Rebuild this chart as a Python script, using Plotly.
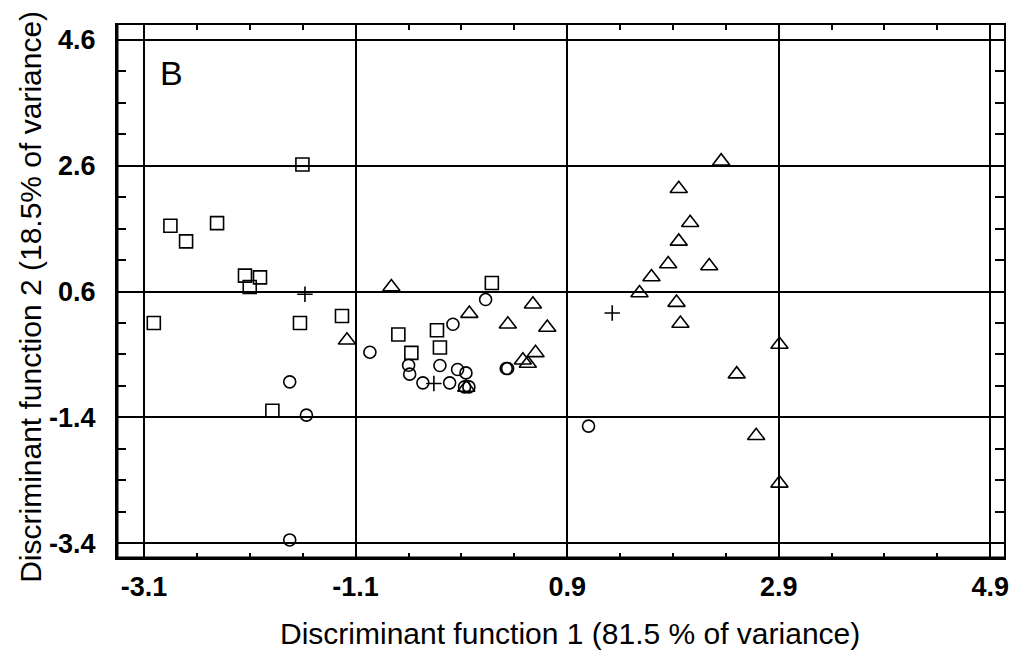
import plotly.graph_objects as go

# Discriminant scores (function 1, function 2) for each group
square_x = [-1.603, -2.851, -2.703, -2.410, -2.146, -2.004, -2.101, -3.008,
            -1.626, -1.229, -1.887, -0.696, -0.573, -0.331, -0.303, 0.188]
square_y = [2.617, 1.645, 1.396, 1.686, 0.852, 0.825, 0.671, 0.100,
            0.100, 0.211, -1.295, -0.084, -0.375, -0.015, -0.290, 0.735]

circle_x = [-1.723, -1.565, -1.723, -0.965, -0.599, -0.589, -0.464, -0.303, -0.211,
            -0.180, -0.136, -0.057, -0.070, -0.029, 0.129, 0.324, 0.337, 1.102]
circle_y = [-0.835, -1.364, -3.346, -0.364, -0.571, -0.713, -0.851, -0.575, -0.851,
            0.080, -0.639, -0.693, -0.915, -0.915, 0.472, -0.623, -0.623, -1.538]

triangle_x = [-1.182, -0.762, -0.025, -0.054, 0.339, 0.576, 0.712, 0.601, 0.481,
              0.528, 1.584, 1.697, 1.855, 1.955, 2.063, 1.955, 2.356, 2.243,
              1.934, 1.971, 2.503, 2.687, 2.907, 2.907]
triangle_y = [-0.174, 0.671, 0.249, -0.924, 0.080, 0.397, 0.027, -0.375, -0.491,
              -0.544, 0.576, 0.830, 1.036, 1.396, 1.693, 2.232, 2.670, 1.004,
              0.424, 0.091, -0.713, -1.692, -0.242, -2.447]

# Group centroids
centroid_x = [-1.579, -0.360, 1.326]
centroid_y = [0.556, -0.861, 0.259]

x_ticks = [-3.1, -1.1, 0.9, 2.9, 4.9]
y_ticks = [-3.4, -1.4, 0.6, 2.6, 4.6]

fig = go.Figure()

def add_group(xs, ys, symbol, size):
    fig.add_trace(go.Scatter(
        x=xs, y=ys, mode="markers",
        marker=dict(symbol=symbol, size=size, color="black",
                    line=dict(color="black", width=1.6)),
        showlegend=False, hoverinfo="x+y"))

add_group(square_x, square_y, "square-open", 13)
add_group(circle_x, circle_y, "circle-open", 12)
add_group(triangle_x, triangle_y, "triangle-up-open", 15)
add_group(centroid_x, centroid_y, "cross-thin-open", 11)

FONT = "Liberation Sans, Arial, sans-serif"
axis_font = dict(family=FONT, size=27, color="black")
title_font = dict(family=FONT, size=30, color="black")

common = dict(
    showgrid=True, gridcolor="black", gridwidth=1.6,
    zeroline=False,
    showline=True, linecolor="black", linewidth=2, mirror="allticks",
    ticks="inside", tickcolor="black", tickwidth=1.5,
    tickfont=axis_font,
)

fig.update_xaxes(
    range=[-3.356, 5.03], tickmode="array", tickvals=x_ticks,
    ticktext=[f"<b>{v:g}</b>" for v in x_ticks], ticklen=5,
    ticklabelstandoff=4,
    minor=dict(dtick=0.5, tick0=-3.1, ticks="inside", ticklen=5,
               tickwidth=1.5, tickcolor="black", showgrid=False),
    **common)

fig.update_yaxes(
    range=[-3.633, 4.833], tickmode="array", tickvals=y_ticks,
    ticktext=[f"<b>{v:g}</b>" for v in y_ticks], ticklen=9,
    ticklabelstandoff=14,
    minor=dict(dtick=0.5, tick0=-3.4, ticks="inside", ticklen=9,
               tickwidth=1.5, tickcolor="black", showgrid=False),
    **common)

# Axis titles
fig.add_annotation(text="Discriminant function 1 (81.5 % of variance)",
                   xref="paper", yref="paper", x=0.511, y=0,
                   xanchor="center", yanchor="middle", yshift=-75,
                   showarrow=False, font=title_font)
fig.add_annotation(text="Discriminant function 2 (18.5% of variance)",
                   xref="paper", yref="paper", x=0, y=0.49,
                   xanchor="center", yanchor="middle", xshift=-86,
                   textangle=-90, showarrow=False, font=title_font)

# Heavier left and bottom frame edges
for x0, y0, x1, y1 in [(0, 0, 0, 1), (0, 0, 1, 0)]:
    fig.add_shape(type="line", xref="paper", yref="paper",
                  x0=x0, y0=y0, x1=x1, y1=y1,
                  line=dict(color="black", width=3))

fig.add_annotation(text="B", xref="paper", yref="paper",
                   x=0.062, y=0.91, xanchor="center", yanchor="middle",
                   showarrow=False,
                   font=dict(family=FONT, size=34, color="black"))

fig.update_layout(
    width=1020, height=650, autosize=False,
    margin=dict(l=117, r=16, t=25, b=92),
    plot_bgcolor="white", paper_bgcolor="white",
)

fig.write_html("out.html")
